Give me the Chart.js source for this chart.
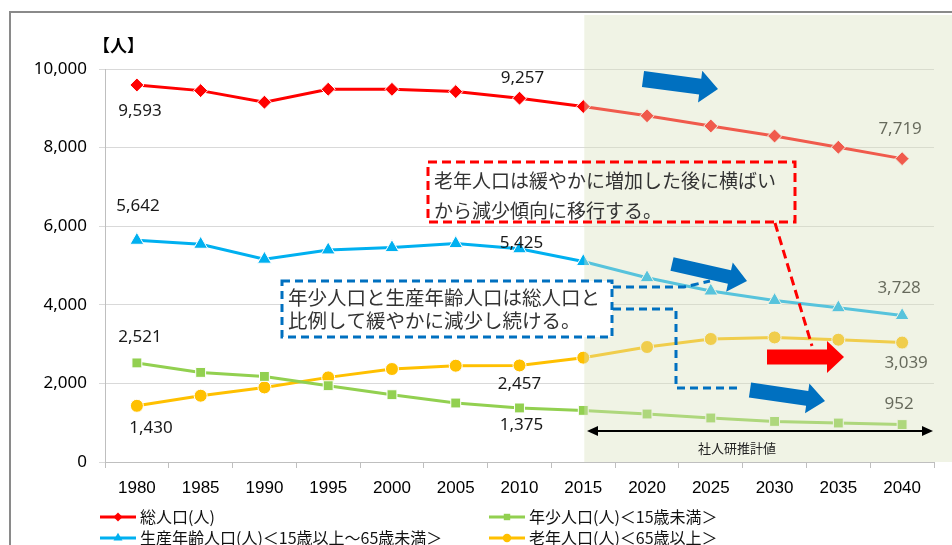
<!DOCTYPE html>
<html><head><meta charset="utf-8">
<script src="https://cdn.jsdelivr.net/npm/chart.js@4/dist/chart.umd.min.js"></script>
<style>html,body{margin:0;padding:0;background:#fff;}canvas{display:block;}</style>
</head><body>
<canvas id="c" width="952" height="545"></canvas>
<script>
const years = ['1980','1985','1990','1995','2000','2005','2010','2015','2020','2025','2030','2035','2040'];
const total   = [9593, 9450, 9155, 9485, 9483, 9425, 9257, 9045, 8810, 8550, 8295, 8010, 7719];
const working = [5642, 5540, 5160, 5396, 5455, 5557, 5425, 5100, 4690, 4350, 4110, 3925, 3728];
const young   = [2521, 2280, 2178, 1941, 1712, 1501, 1375, 1313, 1221, 1120, 1033, 992, 952];
const elderly = [1430, 1687, 1898, 2153, 2366, 2450, 2457, 2655, 2926, 3130, 3170, 3112, 3039];
const yTicks = [0, 2000, 4000, 6000, 8000, 10000];
const seriesNames = ['総人口(人)', '生産年齢人口(人)＜15歳以上～65歳未満＞', '年少人口(人)＜15歳未満＞', '老年人口(人)＜65歳以上＞'];
const yUnit = '【人】';
const noteElderly = ['老年人口は緩やかに増加した後に横ばい', 'から減少傾向に移行する。'];
const noteOthers = ['年少人口と生産年齢人口は総人口と', '比例して緩やかに減少し続ける。'];
const projectionLabel = '社人研推計値';

const fmt = v => v.toLocaleString('en-US');
const JP = '"Noto Sans CJK JP", sans-serif';
const NUM = '"Noto Sans", "Liberation Sans", sans-serif';

// label placement per dataset: [index, dx, dy]
const labelPos = [
  [[0, 3, 26], [6, 3, -20], [12, -2, -29]],
  [[0, 1, -34], [6, 2, -6], [12, -3, -27]],
  [[0, 3, -26], [6, 2, 17], [12, -3, -20]],
  [[0, 14, 22], [6, 0, 19], [12, 4, 21]]
];

function blockArrow(ctx, x0, y0, x1, y1, bw, hw, hl, color) {
  const dx = x1 - x0, dy = y1 - y0, L = Math.hypot(dx, dy);
  const ux = dx / L, uy = dy / L, nx = -uy, ny = ux;
  const bx = x1 - ux * hl, by = y1 - uy * hl;
  ctx.save();
  ctx.fillStyle = color;
  ctx.beginPath();
  ctx.moveTo(x0 + nx * bw / 2, y0 + ny * bw / 2);
  ctx.lineTo(bx + nx * bw / 2, by + ny * bw / 2);
  ctx.lineTo(bx + nx * hw / 2, by + ny * hw / 2);
  ctx.lineTo(x1, y1);
  ctx.lineTo(bx - nx * hw / 2, by - ny * hw / 2);
  ctx.lineTo(bx - nx * bw / 2, by - ny * bw / 2);
  ctx.lineTo(x0 - nx * bw / 2, y0 - ny * bw / 2);
  ctx.closePath();
  ctx.fill();
  ctx.restore();
}

const decor = {
  id: 'decor',
  beforeDraw(chart) {
    const ctx = chart.ctx;
    ctx.save();
    ctx.fillStyle = '#fff';
    ctx.fillRect(0, 0, chart.width, chart.height);
    ctx.strokeStyle = '#8a8a8a';
    ctx.lineWidth = 2;
    ctx.strokeRect(10, 12, 960, 560);
    ctx.restore();
  },
  afterDatasetsDraw(chart) {
    const ctx = chart.ctx;
    const xs = chart.scales.x, ys = chart.scales.y;
    ctx.save();
    ctx.font = '17px ' + NUM;
    ctx.fillStyle = '#1a1a1a';
    ctx.textAlign = 'center';
    ctx.textBaseline = 'middle';
    chart.data.datasets.forEach((ds, di) => {
      labelPos[di].forEach(([i, dx, dy]) => {
        const x = xs.getPixelForValue(i), y = ys.getPixelForValue(ds.data[i]);
        ctx.fillText(fmt(ds.data[i]), x + dx, y + dy);
      });
    });
    ctx.restore();
    const sx = xs.getPixelForValue(7) + 1;
    ctx.save();
    ctx.fillStyle = 'rgba(217,225,190,0.4)';
    ctx.fillRect(sx, 15, 952 - sx, chart.chartArea.bottom - 15);
    ctx.restore();
  },
  afterDraw(chart) {
    const ctx = chart.ctx;
    ctx.save();
    ctx.font = 'bold 17px ' + JP;
    ctx.fillStyle = '#000';
    ctx.textBaseline = 'middle';
    ctx.fillText(yUnit, 93, 46);
    ctx.restore();

    blockArrow(ctx, 643, 79, 718, 89, 16, 32, 18, '#0070C0');
    blockArrow(ctx, 672, 264, 747, 281, 14, 30, 18, '#0070C0');
    blockArrow(ctx, 750, 390, 825, 401, 15, 30, 18, '#0070C0');
    blockArrow(ctx, 767, 357, 844, 357, 15, 32, 17, '#FF0000');

    ctx.save();
    ctx.strokeStyle = '#FF0000';
    ctx.lineWidth = 3;
    ctx.setLineDash([9, 5]);
    ctx.strokeRect(428, 162, 367, 60);
    ctx.beginPath();
    ctx.moveTo(775, 223); ctx.lineTo(812, 346);
    ctx.stroke();
    ctx.restore();
    ctx.save();
    ctx.font = '19px ' + JP;
    ctx.fillStyle = '#333';
    ctx.textBaseline = 'middle';
    ctx.fillText(noteElderly[0], 434, 181);
    ctx.fillText(noteElderly[1], 434, 211);
    ctx.restore();

    ctx.save();
    ctx.fillStyle = '#fff';
    ctx.fillRect(282, 281, 330, 56);
    ctx.strokeStyle = '#0070C0';
    ctx.lineWidth = 3;
    ctx.setLineDash([8, 5]);
    ctx.strokeRect(282, 281, 330, 56);
    ctx.beginPath();
    ctx.moveTo(613, 287); ctx.lineTo(684, 287); ctx.lineTo(710, 281);
    ctx.moveTo(613, 309); ctx.lineTo(676, 309); ctx.lineTo(676, 388); ctx.lineTo(741, 388);
    ctx.stroke();
    ctx.restore();
    ctx.save();
    ctx.font = '19.5px ' + JP;
    ctx.fillStyle = '#333';
    ctx.textBaseline = 'middle';
    ctx.fillText(noteOthers[0], 288, 298);
    ctx.fillText(noteOthers[1], 288, 321);
    ctx.restore();

    ctx.save();
    ctx.strokeStyle = '#000';
    ctx.fillStyle = '#000';
    ctx.lineWidth = 2;
    ctx.beginPath();
    ctx.moveTo(595, 431); ctx.lineTo(925, 431); ctx.stroke();
    ctx.beginPath();
    ctx.moveTo(587, 431); ctx.lineTo(598, 426); ctx.lineTo(598, 436); ctx.closePath(); ctx.fill();
    ctx.beginPath();
    ctx.moveTo(933, 431); ctx.lineTo(922, 426); ctx.lineTo(922, 436); ctx.closePath(); ctx.fill();
    ctx.font = '13px ' + JP;
    ctx.fillStyle = '#222';
    ctx.textAlign = 'center';
    ctx.textBaseline = 'middle';
    ctx.fillText(projectionLabel, 737, 448);
    ctx.restore();

    const items = [
      [0, 100, 517], [2, 489, 517],
      [1, 100, 538], [3, 489, 538]
    ];
    ctx.save();
    items.forEach(([di, x, y]) => {
      const ds = chart.data.datasets[di];
      ctx.strokeStyle = ds.borderColor;
      ctx.lineWidth = 3;
      ctx.beginPath();
      ctx.moveTo(x, y); ctx.lineTo(x + 36, y); ctx.stroke();
      ctx.fillStyle = ds.borderColor;
      Chart.helpers.drawPoint(ctx, {pointStyle: ds.pointStyle, radius: ds.pointRadius * 0.65, borderWidth: 0, rotation: 0}, x + 18, y);
      ctx.fillStyle = '#111';
      ctx.font = '16px ' + JP;
      ctx.textBaseline = 'middle';
      ctx.fillText(seriesNames[di], x + 40, y);
    });
    ctx.restore();
  }
};

const mk = (label, data, color, style, r) => ({
  label, data,
  borderColor: color, backgroundColor: color,
  pointBackgroundColor: color, pointBorderColor: '#fff', pointBorderWidth: 1,
  pointStyle: style, pointRadius: r, borderWidth: 3, tension: 0
});

new Chart(document.getElementById('c'), {
  type: 'line',
  data: {
    labels: years,
    datasets: [
      mk(seriesNames[0], total, '#FF0000', 'rectRot', 7),
      mk(seriesNames[1], working, '#00B0F0', 'triangle', 8),
      mk(seriesNames[2], young, '#92D050', 'rect', 7),
      mk(seriesNames[3], elderly, '#FFC000', 'circle', 6.5)
    ]
  },
  options: {
    responsive: false,
    animation: false,
    devicePixelRatio: 1,
    layout: {padding: {left: 0, top: 69, right: 18, bottom: 0}},
    plugins: {legend: {display: false}, tooltip: {enabled: false}},
    scales: {
      x: {
        offset: true,
        afterFit: s => { s.height = 83; },
        grid: {drawOnChartArea: false, drawTicks: true, tickLength: 6, color: '#bfbfbf', offset: true},
        border: {display: true, color: '#bfbfbf', width: 1},
        ticks: {color: '#000', padding: 10, font: {family: '"Liberation Sans Narrow", "Liberation Sans", sans-serif', size: 17}, maxRotation: 0, autoSkip: false}
      },
      y: {
        min: 0, max: 10000,
        afterFit: s => { s.width = 105; },
        afterBuildTicks: s => { s.ticks = yTicks.map(v => ({value: v})); },
        grid: {color: '#d9d9d9', lineWidth: 1, drawTicks: true, tickLength: 6},
        border: {display: true, color: '#bfbfbf', width: 1},
        ticks: {color: '#000', padding: 12, font: {family: NUM, size: 17}, callback: v => fmt(v)}
      }
    }
  },
  plugins: [decor]
});
</script>
</body></html>
